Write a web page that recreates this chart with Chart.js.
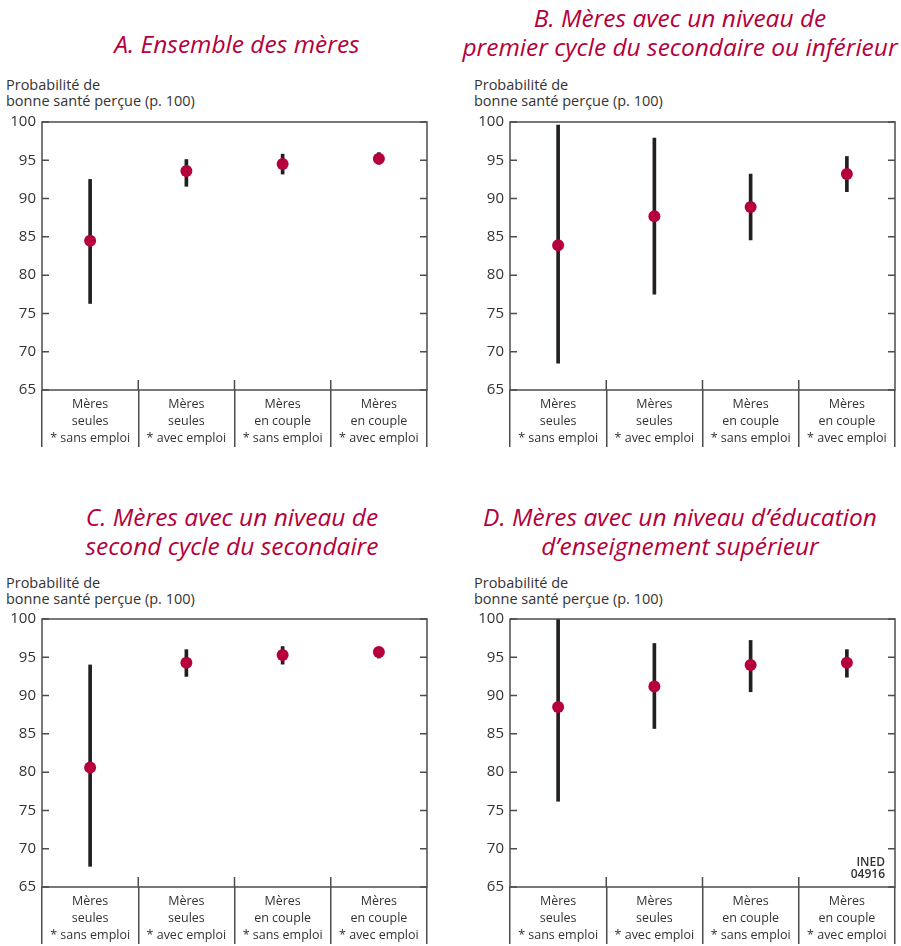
<!DOCTYPE html>
<html>
<head>
<meta charset="utf-8">
<script src="https://cdn.jsdelivr.net/npm/chart.js@4/dist/chart.umd.min.js"></script>
<style>
  body { margin: 0; background: #fff; }
  #page { position: relative; width: 901px; height: 946px; overflow: hidden; font-family: "Open Sans", sans-serif; }
  .title { position: absolute; width: 460px; text-align: center; color: #b5003b; font-style: italic; font-size: 24.5px; line-height: 29px; white-space: nowrap; }
  .caption { position: absolute; color: #333; font-size: 14.5px; line-height: 16px; white-space: nowrap; }
  .box { position: absolute; width: 440px; height: 343px; }
  #ined { position: absolute; right: 16px; top: 856px; font-size: 12px; line-height: 11.5px; font-weight: 600; color: #333; text-align: right; }
</style>
</head>
<body>
<div id="page">
  <div class="title" style="left:7px; top:29px;">A. Ensemble des mères</div>
  <div class="title" style="left:450px; top:3px;">B. Mères avec un niveau de<br>premier cycle du secondaire ou inférieur</div>
  <div class="title" style="left:2px; top:502px;">C. Mères avec un niveau de<br>second cycle du secondaire</div>
  <div class="title" style="left:450px; top:502px;">D. Mères avec un niveau d’éducation<br>d’enseignement supérieur</div>

  <div class="caption" style="left:6px; top:77px;">Probabilité de<br>bonne santé perçue (p. 100)</div>
  <div class="caption" style="left:474px; top:77px;">Probabilité de<br>bonne santé perçue (p. 100)</div>
  <div class="caption" style="left:6px; top:575px;">Probabilité de<br>bonne santé perçue (p. 100)</div>
  <div class="caption" style="left:474px; top:575px;">Probabilité de<br>bonne santé perçue (p. 100)</div>

  <div class="box" style="left:0; top:107px;"><canvas id="chart_a"></canvas></div>
  <div class="box" style="left:468px; top:107px;"><canvas id="chart_b"></canvas></div>
  <div class="box" style="left:0; top:604px;"><canvas id="chart_c"></canvas></div>
  <div class="box" style="left:468px; top:604px;"><canvas id="chart_d"></canvas></div>

  <div id="ined">INED<br>04916</div>
</div>

<script>
// categories (x axis)
const categories = [
    ['Mères', 'seules', '* sans emploi'],
    ['Mères', 'seules', '* avec emploi'],
    ['Mères', 'en couple', '* sans emploi'],
    ['Mères', 'en couple', '* avec emploi']
];

// y axis range
const yMin = 65;
const yMax = 100;
const yStep = 5;

// A. Ensemble des mères
const meanA = [84.5, 93.6, 94.5, 95.2];
const lowA = [76.3, 91.6, 93.2, 94.5];
const highA = [92.5, 95.1, 95.8, 96.0];

// B. premier cycle du secondaire ou inférieur
const meanB = [83.9, 87.7, 88.9, 93.2];
const lowB = [68.5, 77.5, 84.6, 90.9];
const highB = [99.6, 97.9, 93.2, 95.5];

// C. second cycle du secondaire
const meanC = [80.6, 94.3, 95.3, 95.7];
const lowC = [67.7, 92.5, 94.1, 94.9];
const highC = [94.0, 96.0, 96.4, 96.2];

// D. enseignement supérieur
const meanD = [88.5, 91.2, 94.0, 94.3];
const lowD = [76.2, 85.7, 90.5, 92.4];
const highD = [100, 96.8, 97.2, 96.0];

const frameColor = '#4d4d4d';

// cadre, graduations intérieures et séparateurs au-dessus de l'axe
const framePlugin = {
    id: 'frame',
    afterDraw(chart) {
        const {ctx, chartArea: a} = chart;
        const x = chart.scales.x;
        const y = chart.scales.y;
        ctx.save();
        ctx.strokeStyle = frameColor;
        ctx.lineWidth = 1.5;
        ctx.strokeRect(a.left, a.top, a.right - a.left, a.bottom - a.top);
        ctx.beginPath();
        y.ticks.forEach((t, i) => {
            const py = y.getPixelForTick(i);
            ctx.moveTo(a.left, py);
            ctx.lineTo(a.left + 7, py);
            ctx.moveTo(a.right - 7, py);
            ctx.lineTo(a.right, py);
        });
        for (let i = 1; i < x.ticks.length; i++) {
            const px = (x.getPixelForTick(i - 1) + x.getPixelForTick(i)) / 2;
            ctx.moveTo(px, a.bottom - 10);
            ctx.lineTo(px, a.bottom);
        }
        ctx.stroke();
        ctx.restore();
    }
};

function makeChart(id, mean, low, high) {
    new Chart(
        document.getElementById(id),
        {
            type: 'bar',
            data: {
                labels: categories,
                datasets: [
                    {
                        type: 'line',
                        label: 'Probabilité',
                        data: mean,
                        showLine: false,
                        pointRadius: 6,
                        pointBorderWidth: 0,
                        pointBackgroundColor: '#b5003b'
                    },
                    {
                        label: 'Intervalle',
                        data: low.map((v, i) => [v, high[i]]),
                        backgroundColor: '#231f20',
                        barThickness: 3,
                        borderWidth: 0
                    }
                ]
            },
            options: {
                responsive: false,
                animation: false,
                devicePixelRatio: 1,
                layout: {padding: {top: 8, right: 13, left: 0, bottom: 0}},
                plugins: {legend: {display: false}, tooltip: {enabled: false}},
                scales: {
                    x: {
                        offset: true,
                        border: {display: false},
                        grid: {
                            offset: true,
                            drawOnChartArea: false,
                            drawTicks: true,
                            tickLength: 57,
                            color: frameColor,
                            lineWidth: 1.5
                        },
                        ticks: {
                            autoSkip: false,
                            maxRotation: 0,
                            padding: -51,
                            color: '#333',
                            font: {family: 'Open Sans', size: 12.5, lineHeight: 1.36}
                        },
                        afterFit(scale) { scale.height = 60; }
                    },
                    y: {
                        min: yMin,
                        max: yMax,
                        border: {display: false},
                        grid: {drawOnChartArea: false, drawTicks: false},
                        ticks: {
                            stepSize: yStep,
                            padding: 6,
                            color: '#333',
                            font: {family: 'Open Sans', size: 15}
                        },
                        afterFit(scale) { scale.width = 42; }
                    }
                }
            },
            plugins: [framePlugin]
        }
    );
}

document.querySelectorAll('canvas').forEach(c => { c.width = 440; c.height = 343; });

makeChart('chart_a', meanA, lowA, highA);
makeChart('chart_b', meanB, lowB, highB);
makeChart('chart_c', meanC, lowC, highC);
makeChart('chart_d', meanD, lowD, highD);
</script>
</body>
</html>
